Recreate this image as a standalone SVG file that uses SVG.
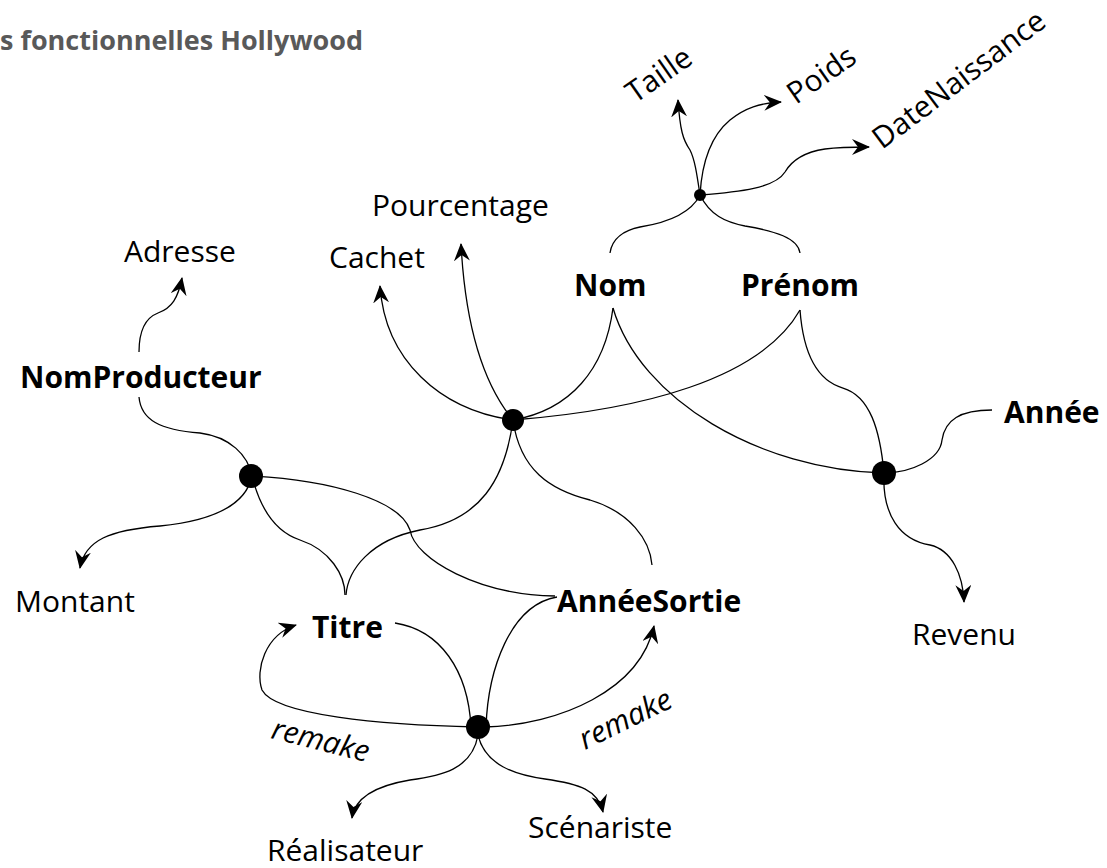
<svg xmlns="http://www.w3.org/2000/svg" width="1107" height="868" viewBox="0 0 1107 868">
<defs>
<marker id="arr" viewBox="0 0 18 16" refX="17" refY="8" markerWidth="18" markerHeight="16" markerUnits="userSpaceOnUse" orient="auto">
<path d="M0,0 L18,8 L0,16 L6,8 z" fill="#000"/>
</marker>
<style>
.t{font-family:"Open Sans","Liberation Sans",sans-serif;font-size:30px;fill:#000}
.b{font-weight:bold}
.i{font-style:italic}
.c{fill:none;stroke:#000;stroke-width:1.3}
.a{marker-end:url(#arr)}
.dot{fill:#000}
</style>
</defs>
<rect width="1107" height="868" fill="#fff"/>
<text x="0" y="50" style="font-family:'Open Sans','Liberation Sans',sans-serif;font-size:27px;font-weight:bold;fill:#595959">s fonctionnelles Hollywood</text>
<g id="connectors">
<path class="c" d="M610,253 C612,238 625,230 640,227 C665,223 690,215 700,195"/>
<path class="c" d="M700,195 C710,215 725,222 745,226 C775,231 798,238 800,253"/>
<path class="c a" d="M700,195 C697,175 695,160 690,150 C683,140 680,130 678,100"/>
<path class="c a" d="M700,195 C702,160 712,135 730,120 C745,108 760,103 781,102"/>
<path class="c a" d="M700,195 C740,192 775,188 785,172 C792,160 805,152 825,149 C840,147 855,147 869,147"/>
<path class="c a" d="M513,420 C440,410 385,360 380,286"/>
<path class="c a" d="M513,420 C480,380 465,320 461,244"/>
<path class="c" d="M613,308 C605,370 570,410 513,420"/>
<path class="c" d="M800,310 C760,380 640,410 513,420"/>
<path class="c" d="M513,420 C505,480 480,520 420,530 C370,540 348,570 346,595"/>
<path class="c" d="M513,420 C520,470 550,490 590,500 C630,512 650,540 652,565"/>
<path class="c" d="M613,308 C640,400 760,470 884,473"/>
<path class="c" d="M800,310 C803,350 815,380 843,388 C870,396 880,430 884,473"/>
<path class="c" d="M992,410 C960,410 945,420 942,440 C940,460 910,473 884,473"/>
<path class="c a" d="M884,473 C882,515 900,540 930,545 C952,550 963,575 964,602"/>
<path class="c" d="M139,397 C141,420 160,430 200,433 C230,437 248,455 252,476"/>
<path class="c a" d="M139,352 C139,330 145,318 158,313 C172,308 178,298 182,278"/>
<path class="c a" d="M252,476 C245,510 200,522 160,526 C110,530 85,540 80,568"/>
<path class="c" d="M252,476 C258,500 270,530 300,540 C330,550 345,575 345,595"/>
<path class="c" d="M252,476 C330,480 400,500 410,530 C415,560 480,595 555,596"/>
<path class="c" d="M395,623 C440,630 468,670 471,727"/>
<path class="c" d="M557,597 C510,605 488,670 486,727"/>
<path class="c a" d="M477,727 C380,725 275,715 262,690 C255,670 265,635 296,625"/>
<path class="c a" d="M485,727 C560,725 640,690 654,626"/>
<path class="c a" d="M478,735 C472,770 440,776 410,780 C380,785 355,795 352,818"/>
<path class="c a" d="M478,735 C485,765 515,775 545,779 C580,784 598,790 603,812"/>
</g>
<g id="dot-top"><circle class="dot" cx="700" cy="195" r="6"/></g>
<g id="dot-mid"><circle class="dot" cx="513" cy="420" r="11"/></g>
<g id="dot-left"><circle class="dot" cx="251" cy="476" r="12"/></g>
<g id="dot-right"><circle class="dot" cx="884" cy="473" r="12"/></g>
<g id="dot-bottom"><circle class="dot" cx="478" cy="727" r="12"/></g>
<g id="n-taille"><text class="t" transform="translate(635,104) rotate(-35)">Taille</text></g>
<g id="n-poids"><text class="t" transform="translate(796,105) rotate(-35)">Poids</text></g>
<g id="n-datenaissance"><text class="t" transform="translate(882,150) rotate(-37)">DateNaissance</text></g>
<g id="n-pourcentage"><text class="t" x="372" y="216">Pourcentage</text></g>
<g id="n-adresse"><text class="t" x="124" y="262">Adresse</text></g>
<g id="n-cachet"><text class="t" x="329" y="268">Cachet</text></g>
<g id="n-nom"><text class="t b" x="574" y="296">Nom</text></g>
<g id="n-prenom"><text class="t b" x="741" y="296">Prénom</text></g>
<g id="n-nomproducteur"><text class="t b" x="20" y="388">NomProducteur</text></g>
<g id="n-annee"><text class="t b" x="1004" y="423">Année</text></g>
<g id="n-montant"><text class="t" x="15" y="612">Montant</text></g>
<g id="n-titre"><text class="t b" x="312" y="638">Titre</text></g>
<g id="n-anneesortie"><text class="t b" x="557" y="612">AnnéeSortie</text></g>
<g id="n-revenu"><text class="t" x="912" y="645">Revenu</text></g>
<g id="n-realisateur"><text class="t" x="267" y="861">Réalisateur</text></g>
<g id="n-scenariste"><text class="t" x="528" y="838">Scénariste</text></g>
<g id="l-remake1"><text class="t i" transform="translate(270,738) rotate(14)">remake</text></g>
<g id="l-remake2"><text class="t i" transform="translate(585,750) rotate(-26)">remake</text></g>
</svg>
